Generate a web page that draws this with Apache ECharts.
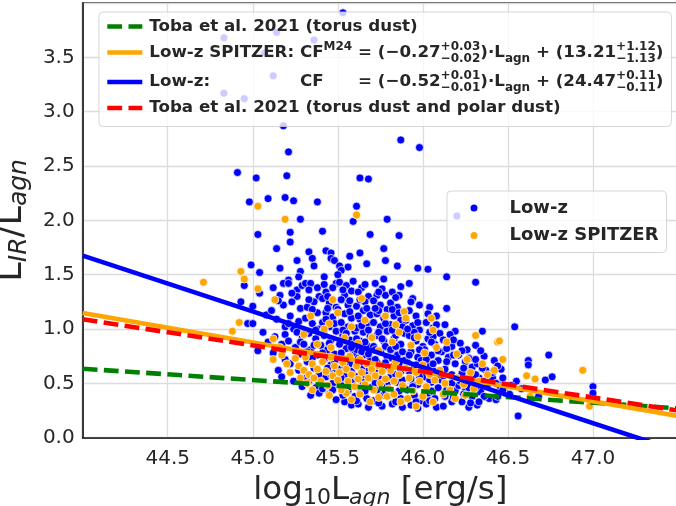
<!DOCTYPE html>
<html><head><meta charset="utf-8">
<script src="https://cdn.jsdelivr.net/npm/echarts@6/dist/echarts.min.js"></script>
<style>html,body{margin:0;padding:0;background:#fff}#c{width:676px;height:506px}</style>
</head><body><div id="c"></div>
<script>
// ---- tick labels ----
const xTickLabels = [44.5, 45.0, 45.5, 46.0, 46.5, 47.0];
const yTickLabels = [0.0, 0.5, 1.0, 1.5, 2.0, 2.5, 3.0, 3.5];

// ---- fitted relations (endpoints) ----
const tobaTorus  = [[44.0, 0.635], [47.5, 0.27]];
const spitzerFit = [[44.0, 1.147], [47.5, 0.20]];
const lowzFit    = [[44.0, 1.675], [47.5, -0.123]];
const tobaPolar  = [[44.0, 1.09],  [47.5, 0.25]];

// ---- Low-z sample (blue) ----
const lowzOutliers = [[45.53,3.91],[44.83,3.68],[45.14,3.73],[45.36,3.66],[45.07,3.54],[45.12,3.33],[44.83,3.17],[44.95,3.12],[45.18,2.87],[45.87,2.74],[45.98,2.67],[46.2,2.04],
[45.21,2.63],[44.91,2.44],[45.02,2.39],[45.20,2.41],[45.63,2.39],[45.68,2.38],[44.98,2.17],[45.09,2.20],[45.19,2.21],[45.24,2.18],[45.38,2.17],[45.61,2.13],[45.59,1.99],[45.28,2.01],[45.79,2.01],[45.03,1.87],[45.22,1.89],[45.22,1.80],[45.41,1.90],[45.69,1.87],[45.86,1.86],[45.14,1.74],[45.33,1.71],[45.43,1.72],[45.46,1.70],[45.35,1.65],[45.46,1.65],[45.48,1.63],[45.26,1.63],[45.57,1.67],[45.63,1.70],[45.77,1.74],[45.78,1.63],[45.67,1.60],[45.85,1.58],[45.97,1.56],[46.03,1.55],[46.14,1.48],[44.99,1.59],[45.16,1.56],[45.36,1.58],[45.51,1.58],[45.56,1.57],[45.52,1.54],[45.50,1.50],[45.28,1.53],[45.04,1.52],[45.27,1.48],[45.42,1.48],[45.21,1.45],[45.77,1.46],[46.31,1.43]];
const lowzCluster = [
[44.93,1.25],[44.95,1.40],[44.97,1.05],[45.00,1.05],[45.00,1.21],[45.04,1.33],[45.06,0.97],[45.08,1.13],[45.09,0.88],[45.03,0.80],
[45.12,1.38],[45.11,1.17],[45.16,1.31],[45.18,1.22],[45.14,1.09],[45.19,1.02],[45.13,0.93],[45.17,0.86],[45.15,0.62],[45.17,0.56],[45.19,0.72],[45.12,0.78],[45.18,1.42],[45.15,1.26],[45.19,0.95],
[45.21,1.42],[45.26,1.36],[45.26,1.30],[45.23,1.25],[45.28,1.19],[45.22,1.12],[45.27,1.07],[45.24,1.00],[45.29,0.94],[45.21,0.89],[45.25,0.83],[45.28,0.77],[45.22,0.68],[45.27,0.62],[45.24,0.52],[45.29,0.47],[45.23,1.33],[45.29,1.40],[45.26,0.97],[45.21,1.05],[45.28,0.88],
[45.31,1.42],[45.34,1.42],[45.39,1.30],[45.33,1.36],[45.36,1.25],[45.32,1.20],[45.38,1.15],[45.31,1.10],[45.35,1.05],[45.39,1.00],[45.33,0.96],[45.37,0.91],[45.30,0.86],[45.34,0.81],[45.38,0.76],[45.32,0.70],[45.36,0.64],[45.39,0.58],[45.33,0.52],[45.37,0.46],[45.34,0.39],[45.39,0.41],[45.31,0.98],[45.38,1.38],[45.35,1.18],[45.32,0.79],
[45.42,1.41],[45.49,1.42],[45.43,1.34],[45.47,1.38],[45.41,1.28],[45.45,1.24],[45.49,1.20],[45.43,1.15],[45.47,1.11],[45.41,1.06],[45.45,1.02],[45.49,0.98],[45.42,0.94],[45.46,0.90],[45.40,0.85],[45.44,0.81],[45.48,0.77],[45.42,0.72],[45.46,0.67],[45.49,0.62],[45.43,0.56],[45.47,0.50],[45.41,0.45],[45.45,0.40],[45.49,0.35],[45.44,1.30],[45.48,1.05],[45.41,0.78],[45.46,0.58],
[45.51,1.43],[45.55,1.40],[45.59,1.44],[45.54,1.31],[45.58,1.35],[45.52,1.27],[45.56,1.22],[45.50,1.18],[45.54,1.14],[45.58,1.10],[45.52,1.06],[45.56,1.02],[45.60,0.98],[45.53,0.94],[45.57,0.90],[45.51,0.86],[45.55,0.82],[45.59,0.78],[45.53,0.73],[45.57,0.68],[45.51,0.63],[45.55,0.58],[45.59,0.53],[45.52,0.48],[45.56,0.43],[45.60,0.38],[45.54,0.33],[45.58,0.30],[45.57,1.26],[45.53,0.99],[45.59,0.86],[45.51,0.72],
[45.64,1.38],[45.68,1.30],[45.62,1.34],[45.66,1.25],[45.61,1.21],[45.65,1.17],[45.69,1.13],[45.63,1.09],[45.67,1.05],[45.61,1.01],[45.65,0.97],[45.69,0.93],[45.63,0.89],[45.67,0.85],[45.61,0.81],[45.65,0.76],[45.69,0.71],[45.63,0.66],[45.67,0.61],[45.61,0.56],[45.65,0.51],[45.69,0.46],[45.63,0.41],[45.67,0.36],[45.62,0.31],[45.68,0.28],[45.66,1.41],[45.62,1.12],[45.68,0.99],[45.64,0.79],[45.66,0.58],
[45.72,1.42],[45.76,1.37],[45.73,1.31],[45.78,1.31],[45.71,1.26],[45.75,1.22],[45.79,1.18],[45.73,1.14],[45.77,1.10],[45.71,1.06],[45.75,1.02],[45.79,0.98],[45.73,0.94],[45.77,0.89],[45.71,0.84],[45.75,0.79],[45.79,0.74],[45.73,0.69],[45.77,0.64],[45.71,0.59],[45.75,0.54],[45.79,0.49],[45.73,0.44],[45.77,0.39],[45.71,0.34],[45.76,0.29],[45.74,1.17],[45.78,0.84],[45.72,0.72],[45.76,0.47],
[45.87,1.39],[45.86,1.31],[45.82,1.34],[45.81,1.24],[45.85,1.20],[45.89,1.16],[45.83,1.12],[45.87,1.08],[45.81,1.04],[45.85,1.00],[45.89,0.96],[45.83,0.91],[45.87,0.86],[45.81,0.81],[45.85,0.76],[45.89,0.71],[45.83,0.66],[45.87,0.61],[45.81,0.56],[45.85,0.51],[45.89,0.46],[45.83,0.41],[45.87,0.36],[45.82,0.31],[45.88,0.28],[45.84,0.94],[45.86,0.68],[45.82,1.18],
[45.92,1.42],[45.94,1.28],[45.98,1.22],[45.92,1.17],[45.96,1.12],[45.90,1.08],[45.94,1.03],[45.98,0.99],[45.92,0.94],[45.96,0.89],[46.00,0.84],[45.93,0.79],[45.97,0.74],[45.91,0.69],[45.95,0.64],[45.99,0.59],[45.93,0.54],[45.97,0.49],[45.91,0.44],[45.95,0.39],[45.99,0.34],[45.93,0.30],[45.97,0.27],[45.95,0.97],[45.99,0.71],
[46.04,1.20],[46.08,1.12],[46.02,1.06],[46.06,1.01],[46.10,0.96],[46.03,0.91],[46.07,0.86],[46.01,0.81],[46.05,0.76],[46.09,0.71],[46.03,0.66],[46.07,0.61],[46.01,0.56],[46.05,0.51],[46.09,0.46],[46.03,0.41],[46.07,0.36],[46.02,0.31],[46.08,0.28],[46.06,0.93],
[46.14,1.19],[46.19,0.98],[46.16,0.95],[46.12,0.90],[46.17,0.84],[46.11,0.79],[46.15,0.74],[46.19,0.68],[46.13,0.63],[46.17,0.58],[46.11,0.53],[46.15,0.48],[46.19,0.43],[46.13,0.38],[46.17,0.33],[46.12,0.29],
[46.22,0.87],[46.26,0.81],[46.21,0.76],[46.25,0.70],[46.29,0.65],[46.23,0.59],[46.27,0.54],[46.21,0.48],[46.25,0.43],[46.29,0.38],[46.23,0.33],[46.27,0.28],
[46.35,0.98],[46.31,0.85],[46.36,0.75],[46.32,0.68],[46.37,0.62],[46.33,0.55],[46.38,0.49],[46.34,0.42],[46.39,0.36],[46.32,0.30],
[46.42,0.71],[46.46,0.63],[46.41,0.55],[46.45,0.48],[46.49,0.41],[46.43,0.35],
[46.54,1.02],[46.56,0.20],[46.62,0.71],[46.62,0.67],[46.74,0.76],[46.76,0.56],[47.00,0.47],[47.00,0.41],[46.55,0.52],[46.58,0.45],[46.68,0.38],[46.72,0.53]];
const lowzCore = [
[45.33,1.27],[45.37,0.99],[45.35,0.73],[45.31,0.55],[45.36,0.85],
[45.44,1.19],[45.42,0.99],[45.45,0.87],[45.48,0.70],[45.44,0.64],[45.47,0.44],[45.43,1.09],
[45.53,1.36],[45.57,1.16],[45.55,0.96],[45.58,0.83],[45.52,0.78],[45.54,0.66],[45.58,0.61],[45.52,0.55],[45.57,0.47],[45.53,0.39],
[45.63,1.27],[45.67,1.19],[45.64,1.03],[45.61,0.91],[45.66,0.88],[45.62,0.73],[45.68,0.77],[45.64,0.63],[45.66,0.43],[45.61,0.34],[45.69,0.55],
[45.74,1.34],[45.72,1.19],[45.78,1.05],[45.74,0.97],[45.76,0.91],[45.72,0.81],[45.78,0.69],[45.74,0.61],[45.72,0.50],[45.78,0.43],[45.74,0.32],
[45.84,1.29],[45.86,1.15],[45.88,1.02],[45.82,0.99],[45.84,0.84],[45.88,0.79],[45.82,0.73],[45.84,0.58],[45.88,0.53],[45.86,0.43],[45.84,0.33],
[45.93,1.25],[45.97,1.06],[45.91,1.00],[45.95,0.92],[45.98,0.81],[45.92,0.76],[45.96,0.67],[45.92,0.61],[45.98,0.56],[45.94,0.47],[45.96,0.33],
[46.03,1.14],[46.08,1.04],[46.04,0.97],[46.05,0.88],[46.09,0.80],[46.02,0.72],[46.06,0.68],[46.04,0.53],[46.09,0.58],[46.05,0.43],[46.04,0.34],
[46.13,1.04],[46.18,0.90],[46.14,0.82],[46.18,0.76],[46.14,0.70],[46.12,0.57],[46.17,0.50],[46.14,0.44],[46.18,0.37],
[46.23,0.80],[46.27,0.73],[46.24,0.64],[46.28,0.58],[46.22,0.52],[46.27,0.46],[46.24,0.40],[46.28,0.32],
[46.34,0.80],[46.31,0.72],[46.35,0.64],[46.31,0.58],[46.36,0.52],[46.31,0.46],[46.36,0.38],[46.33,0.33],
[46.44,0.66],[46.41,0.60],[46.47,0.55],[46.43,0.50],[46.47,0.44],[46.44,0.38],[46.52,0.48],[46.51,0.40]];

// ---- Low-z SPITZER sample (orange) ----
const spitzerPoints = [[45.03,2.13],[45.61,2.05],[45.19,2.01],[44.93,1.53],[44.95,1.46],[44.71,1.43],[44.88,0.98],[44.92,1.06],[45.03,1.37],[45.13,1.27],
[45.12,0.91],[45.12,0.72],[45.17,0.76],[45.28,0.55],[45.32,0.50],[45.47,1.27],[45.45,1.05],[45.64,1.28],[45.84,1.04],[45.89,1.16],[45.90,1.10],[46.05,1.10],[46.06,0.99],[46.31,0.94],[46.44,0.88],[46.47,0.72],[46.61,0.57],[46.66,0.54],[46.63,0.38],[45.96,0.29],[45.87,0.33],[45.79,0.38],[45.55,0.41],[46.42,0.62],[46.19,0.36],[46.94,0.62],[46.98,0.29],[46.45,0.89],
[45.16,0.83],[45.20,0.68],[45.22,0.60],[45.25,0.73],[45.27,0.66],[45.30,0.62],[45.31,0.74],[45.33,0.58],[45.35,0.68],[45.36,0.55],[45.38,0.63],[45.40,0.52],[45.41,0.70],[45.43,0.61],[45.44,0.48],[45.46,0.74],[45.47,0.57],[45.48,0.66],[45.50,0.53],[45.51,0.60],[45.52,0.44],[45.53,0.69],[45.55,0.63],[45.56,0.52],[45.57,0.75],[45.58,0.58],[45.60,0.47],[45.61,0.66],[45.62,0.54],[45.63,0.72],[45.64,0.60],[45.66,0.49],[45.67,0.68],[45.68,0.55],[45.70,0.63],[45.71,0.44],[45.72,0.57],[45.74,0.66],[45.75,0.50],[45.76,0.61],[45.78,0.54],[45.80,0.45],[45.81,0.62],[45.83,0.52],[45.84,0.70],[45.86,0.58],[45.88,0.48],[45.90,0.64],[45.92,0.55],[45.94,0.43],[45.96,0.60],[45.98,0.52],[46.00,0.67],[46.02,0.47],[46.04,0.58],[46.07,0.53],[46.10,0.62],[46.13,0.50],[46.16,0.44],[46.20,0.55],[46.24,0.49],[46.28,0.60],[46.33,0.52],[46.38,0.58],
[45.30,0.95],[45.34,1.12],[45.38,0.86],[45.42,1.00],[45.46,0.83],[45.50,1.15],[45.54,0.92],[45.58,1.02],[45.62,0.87],[45.66,1.08],[45.70,0.92],[45.74,0.80],[45.78,1.12],[45.82,0.88],[45.86,0.97],[45.93,0.85],[45.97,0.93],[46.01,0.78],[46.08,0.83],[46.14,0.88],[46.20,0.77],[46.26,0.72],[46.35,0.68],
[45.35,0.44],[45.45,0.39],[45.58,0.35],[45.63,0.40],[45.69,0.33],[45.74,0.37],[45.83,0.40],[45.91,0.36],[46.00,0.38],[46.06,0.33],[46.12,0.40],[46.25,0.39],[46.30,0.45]];

const lowzPoints = lowzOutliers.concat(lowzCluster, lowzCore);

const FONT = 'DejaVu Sans';
const TXT = '#262626';
const LF = 16.7; // legend font size
const SUPF = 12;

function measure(text, size, weight) {
  const cv = document.createElement('canvas').getContext('2d');
  cv.font = (weight || 'normal') + ' ' + size + 'px "' + FONT + '"';
  return cv.measureText(text).width;
}
const labW = measure('Low-z SPITZER: ', LF, 'bold');
const cfW = measure('CF', LF, 'bold') + measure('M24', SUPF, 'bold') + measure(' ', LF, 'bold');

const fitNames = ['fitTorus', 'fitSpitzer', 'fitLowz', 'fitPolar'];
const fitLabels = {
  fitTorus: '{b|Toba et al. 2021 (torus dust)}',
  fitSpitzer: '{lab|Low-z SPITZER: }{b|CF}{sup|M24}{b| = (−0.27}{sa|+0.03}{sb|−0.02}{b|)·L}{sub|agn}{b| + (13.21}{sa|+1.12}{sb|−1.13}{b|)}',
  fitLowz: '{lab|Low-z:}{cf|CF}{b|= (−0.52}{sa|+0.01}{sb|−0.01}{b|)·L}{sub|agn}{b| + (24.47}{sa|+0.11}{sb|−0.11}{b|)}',
  fitPolar: '{b|Toba et al. 2021 (torus dust and polar dust)}'
};

const bold = {fontFamily: FONT, fontWeight: 'bold', color: TXT};
const LH = 24;
const rich1 = {
  b: Object.assign({fontSize: LF, lineHeight: LH}, bold),
  lab: Object.assign({fontSize: LF, lineHeight: LH, width: labW}, bold),
  cf: Object.assign({fontSize: LF, lineHeight: LH, width: cfW}, bold),
  sup: Object.assign({fontSize: SUPF, lineHeight: 14, verticalAlign: 'top'}, bold),
  sa: Object.assign({fontSize: SUPF, lineHeight: 14, verticalAlign: 'top', width: 0.01}, bold),
  sb: Object.assign({fontSize: SUPF, lineHeight: 13, verticalAlign: 'bottom'}, bold),
  sub: Object.assign({fontSize: SUPF, lineHeight: 13, verticalAlign: 'bottom'}, bold)
};

const chart = echarts.init(document.getElementById('c'), null, {renderer: 'canvas'});
const dash = [14.8, 6.4];
function fitSeries(name, data, color, type, z) {
  return {name: name, type: 'line', data: data, symbol: 'none', z: z,
    lineStyle: {color: color, width: 4.6, type: type, cap: 'butt'},
    itemStyle: {color: color}, emphasis: {disabled: true}, animation: false};
}
chart.setOption({
  animation: false,
  backgroundColor: '#ffffff',
  grid: {left: 82.7, right: -2, top: 3, bottom: 68.3, outerBoundsMode: 'none', containLabel: false,
    show: true, borderColor: '#1a1a1a', borderWidth: 1.6, backgroundColor: '#fff'},
  xAxis: {type: 'value', min: 44.0, max: 47.5, interval: 0.5,
    axisLine: {show: true, lineStyle: {color: '#1a1a1a', width: 1.6}}, axisTick: {show: false},
    splitLine: {show: true, lineStyle: {color: '#dcdcdc', width: 1.3}},
    axisLabel: {fontFamily: FONT, fontSize: 20, color: TXT, margin: 11,
      formatter: v => xTickLabels.some(t => Math.abs(t - v) < 1e-6) ? v.toFixed(1) : ''},
    name: '{n|log}{s|10}{n|L}{si|agn}{n| [erg/s]}', nameLocation: 'middle', nameGap: 30,
    nameTextStyle: {rich: {
      n: {fontFamily: FONT, fontSize: 32.5, color: TXT, lineHeight: 38},
      s: {fontFamily: FONT, fontSize: 22, color: TXT, lineHeight: 17, verticalAlign: 'bottom'},
      si: {fontFamily: FONT, fontSize: 22, color: TXT, lineHeight: 17, verticalAlign: 'bottom', fontStyle: 'italic'}
    }}
  },
  yAxis: {type: 'value', min: 0, max: 4, interval: 0.5,
    axisLine: {show: true, lineStyle: {color: '#1a1a1a', width: 1.6}}, axisTick: {show: false},
    splitLine: {show: true, lineStyle: {color: '#dcdcdc', width: 1.3}},
    axisLabel: {fontFamily: FONT, fontSize: 20, color: TXT, margin: 8,
      formatter: v => yTickLabels.some(t => Math.abs(t - v) < 1e-6) ? v.toFixed(1) : ''},
    name: '{n|L}{si|IR}{n|/L}{si|agn}', nameLocation: 'middle', nameGap: 41,
    nameTextStyle: {rich: {
      n: {fontFamily: FONT, fontSize: 35, color: TXT, lineHeight: 40},
      si: {fontFamily: FONT, fontSize: 25, color: TXT, lineHeight: 18, verticalAlign: 'bottom', fontStyle: 'italic'}
    }}
  },
  legend: [
    {data: fitNames, orient: 'vertical', left: 99, top: 12, itemWidth: 35, itemHeight: 6, itemGap: 5.5,
     padding: [6, 8, 10, 6], backgroundColor: 'rgba(255,255,255,0.8)', borderColor: 'rgba(204,204,204,0.8)', borderWidth: 1, borderRadius: 4,
     selectedMode: false, formatter: n => fitLabels[n],
     itemStyle: {opacity: 0}, lineStyle: {width: 4.6},
     textStyle: {padding: [0, 0, 0, 2], rich: rich1}},
    {data: ['Low-z', 'Low-z SPITZER'], orient: 'vertical', left: 447, top: 191, itemWidth: 9, itemHeight: 9, itemGap: 7.5, icon: 'circle',
     padding: [7, 8, 7, 21.5], backgroundColor: 'rgba(255,255,255,0.8)', borderColor: 'rgba(204,204,204,0.8)', borderWidth: 1, borderRadius: 4,
     selectedMode: false,
     textStyle: {fontFamily: FONT, fontWeight: 'bold', fontSize: 18, color: TXT, lineHeight: 20, padding: [0, 0, 0, 26]}}
  ],
  series: [
    {name: 'Low-z', type: 'scatter', data: lowzPoints, symbolSize: 8, z: 2,
     itemStyle: {color: '#0000ff', borderColor: '#ffffff', borderWidth: 0.7, opacity: 1}, emphasis: {disabled: true}},
    {name: 'Low-z SPITZER', type: 'scatter', data: spitzerPoints, symbolSize: 8, z: 3,
     itemStyle: {color: '#ffa500', borderColor: '#ffffff', borderWidth: 0.7, opacity: 1}, emphasis: {disabled: true}},
    fitSeries('fitTorus', tobaTorus, '#008000', dash, 4),
    fitSeries('fitSpitzer', spitzerFit, '#ffa500', 'solid', 5),
    fitSeries('fitLowz', lowzFit, '#0000ff', 'solid', 6),
    fitSeries('fitPolar', tobaPolar, '#ff0000', dash, 7)
  ]
});
</script></body></html>
